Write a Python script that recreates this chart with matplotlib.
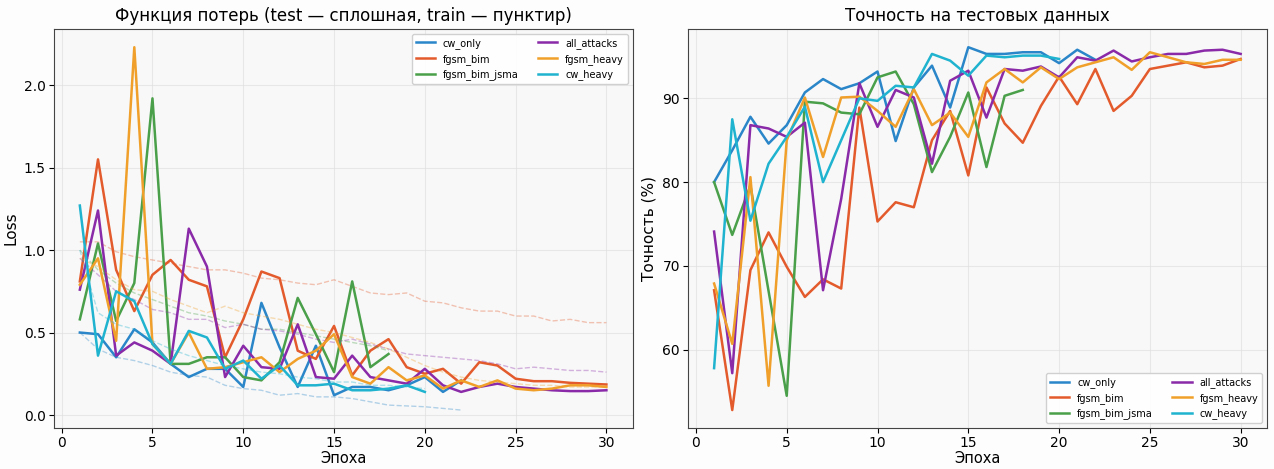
import numpy as np
import matplotlib
matplotlib.use('Agg')
import matplotlib.pyplot as plt

names = ['cw_only', 'fgsm_bim', 'fgsm_bim_jsma', 'all_attacks', 'fgsm_heavy', 'cw_heavy']
colors = ['#2a86c8', '#e35b2c', '#4aa04a', '#8a2aa8', '#f0a02a', '#1fb3cf']

# тестовые потери (сплошные линии)
test_loss = {
    'cw_only': [0.50, 0.49, 0.35, 0.52, 0.44, 0.31, 0.23, 0.28, 0.28, 0.17, 0.68, 0.41, 0.17, 0.42, 0.12,
                0.17, 0.17, 0.15, 0.18, 0.23, 0.14, 0.21],
    'fgsm_bim': [0.81, 1.55, 0.88, 0.63, 0.85, 0.94, 0.82, 0.78, 0.35, 0.58, 0.87, 0.83, 0.39, 0.34, 0.54,
                 0.24, 0.39, 0.46, 0.29, 0.25, 0.28, 0.19, 0.32, 0.30, 0.22, 0.205, 0.205, 0.195, 0.19, 0.185],
    'fgsm_bim_jsma': [0.58, 1.04, 0.57, 0.80, 1.92, 0.31, 0.31, 0.35, 0.35, 0.23, 0.21, 0.32, 0.71, 0.49,
                      0.26, 0.81, 0.29, 0.37],
    'all_attacks': [0.76, 1.24, 0.36, 0.44, 0.39, 0.31, 1.13, 0.90, 0.23, 0.42, 0.29, 0.28, 0.55, 0.23, 0.22,
                    0.36, 0.23, 0.21, 0.19, 0.28, 0.18, 0.14, 0.17, 0.19, 0.17, 0.16, 0.15, 0.145, 0.145, 0.15],
    'fgsm_heavy': [0.79, 0.95, 0.45, 2.23, 0.43, 0.31, 0.50, 0.28, 0.29, 0.32, 0.35, 0.26, 0.34, 0.39, 0.49,
                   0.23, 0.19, 0.29, 0.21, 0.24, 0.16, 0.21, 0.17, 0.21, 0.16, 0.15, 0.16, 0.18, 0.18, 0.17],
    'cw_heavy': [1.27, 0.36, 0.75, 0.69, 0.43, 0.31, 0.51, 0.47, 0.28, 0.33, 0.22, 0.30, 0.18, 0.18, 0.19,
                 0.15, 0.15, 0.16, 0.18, 0.14],
}

# потери на обучении (пунктир)
train_loss = {
    'cw_only': [0.50, 0.40, 0.35, 0.33, 0.30, 0.26, 0.24, 0.23, 0.18, 0.16, 0.15, 0.12, 0.13, 0.11, 0.11,
                0.10, 0.08, 0.06, 0.055, 0.05, 0.04, 0.03],
    'fgsm_bim': [1.05, 1.05, 0.99, 0.96, 0.94, 0.92, 0.90, 0.88, 0.88, 0.86, 0.83, 0.82, 0.80, 0.79, 0.82,
                 0.78, 0.74, 0.73, 0.74, 0.69, 0.68, 0.65, 0.63, 0.63, 0.60, 0.60, 0.57, 0.58, 0.56, 0.56],
    'fgsm_bim_jsma': [1.00, 0.88, 0.80, 0.74, 0.70, 0.66, 0.62, 0.60, 0.57, 0.55, 0.52, 0.52, 0.50, 0.48,
                      0.46, 0.44, 0.42, 0.39],
    'all_attacks': [0.95, 0.85, 0.75, 0.70, 0.64, 0.62, 0.58, 0.58, 0.53, 0.55, 0.52, 0.51, 0.49, 0.46, 0.44,
                    0.46, 0.43, 0.40, 0.37, 0.36, 0.35, 0.34, 0.33, 0.31, 0.28, 0.29, 0.28, 0.27, 0.27, 0.26],
    'fgsm_heavy': [0.95, 0.90, 0.82, 0.76, 0.75, 0.70, 0.66, 0.62, 0.66, 0.62, 0.60, 0.58, 0.55, 0.52, 0.50,
                   0.47, 0.44, 0.40, 0.35, 0.30, 0.26, 0.23, 0.21, 0.20, 0.19, 0.18, 0.18, 0.17, 0.17, 0.17],
    'cw_heavy': [1.00, 0.62, 0.55, 0.52, 0.45, 0.40, 0.36, 0.33, 0.30, 0.28, 0.26, 0.25, 0.23, 0.22, 0.20,
                 0.20, 0.18, 0.18, 0.17, 0.16],
}

# точность на тесте, %
test_acc = {
    'cw_only': [80.0, 83.8, 87.8, 84.6, 86.8, 90.7, 92.3, 91.1, 91.8, 93.2, 84.9, 91.3, 93.9, 88.9, 96.1,
                95.3, 95.3, 95.5, 95.5, 94.2, 95.8, 94.6],
    'fgsm_bim': [67.1, 52.8, 69.5, 74.0, 69.9, 66.3, 68.4, 67.3, 88.9, 75.3, 77.6, 77.0, 85.0, 88.5, 80.8,
                 91.3, 87.0, 84.7, 89.1, 92.6, 89.3, 93.5, 88.5, 90.3, 93.5, 93.9, 94.3, 93.7, 93.9, 94.7],
    'fgsm_bim_jsma': [80.0, 73.7, 79.6, 67.0, 54.5, 89.6, 89.4, 88.3, 88.1, 92.5, 93.2, 89.3, 81.2, 85.4,
                      90.7, 81.8, 90.3, 91.0],
    'all_attacks': [74.1, 57.2, 86.8, 86.4, 85.4, 87.1, 67.1, 78.0, 91.8, 86.6, 91.0, 90.1, 82.2, 92.1, 93.3,
                    87.7, 93.5, 93.3, 93.8, 92.5, 94.9, 94.5, 95.7, 94.4, 94.9, 95.3, 95.3, 95.7, 95.8, 95.3],
    'fgsm_heavy': [67.9, 60.7, 80.6, 55.7, 85.0, 90.1, 83.0, 90.1, 90.2, 88.5, 86.6, 91.1, 86.8, 88.3, 85.4,
                   91.9, 93.5, 91.9, 93.7, 92.3, 93.7, 94.3, 94.9, 93.4, 95.5, 94.9, 94.3, 94.1, 94.6, 94.6],
    'cw_heavy': [57.8, 87.5, 75.4, 82.2, 85.4, 89.0, 80.0, 85.0, 90.0, 89.7, 91.5, 91.3, 95.3, 94.5, 92.7,
                 95.1, 94.9, 95.1, 95.1, 94.7],
}

plt.rcParams['font.family'] = ['DejaVu Sans']
fig, (ax1, ax2) = plt.subplots(1, 2, figsize=(12.74, 4.69), dpi=100)
fig.patch.set_facecolor('#fdfdfd')
fig.subplots_adjust(left=0.042, right=0.9945, top=0.938, bottom=0.087, wspace=0.095)

for name, c in zip(names, colors):
    ep = np.arange(1, len(test_loss[name]) + 1)
    ax1.plot(ep, test_loss[name], color=c, lw=1.8, label=name)
    ep_tr = np.arange(1, len(train_loss[name]) + 1)
    ax1.plot(ep_tr, train_loss[name], color=c, lw=1.0, ls='--', alpha=0.35)
    ep_acc = np.arange(1, len(test_acc[name]) + 1)
    ax2.plot(ep_acc, test_acc[name], color=c, lw=1.8, label=name)

ax1.set_title('Функция потерь (test — сплошная, train — пунктир)', fontsize=12)
ax1.set_xlabel('Эпоха', fontsize=10.5, labelpad=1)
ax1.set_ylabel('Loss', fontsize=11)
ax1.legend(loc='upper right', ncol=2, fontsize=7, framealpha=0.9)

ax2.set_title('Точность на тестовых данных', fontsize=12)
ax2.set_xlabel('Эпоха', fontsize=10.5, labelpad=1)
ax2.set_ylabel('Точность (%)', fontsize=11)
ax2.legend(loc='lower right', ncol=2, fontsize=7, framealpha=0.9)

for ax in (ax1, ax2):
    ax.set_facecolor('#f8f8f8')
    ax.grid(True, color='#dddddd', alpha=0.6, lw=0.8)
    ax.set_xticks([0, 5, 10, 15, 20, 25, 30])
    ax.tick_params(labelsize=10, pad=2)
    for s in ax.spines.values():
        s.set_color('#444444')

plt.savefig('out.png', dpi=100, facecolor=fig.get_facecolor())
